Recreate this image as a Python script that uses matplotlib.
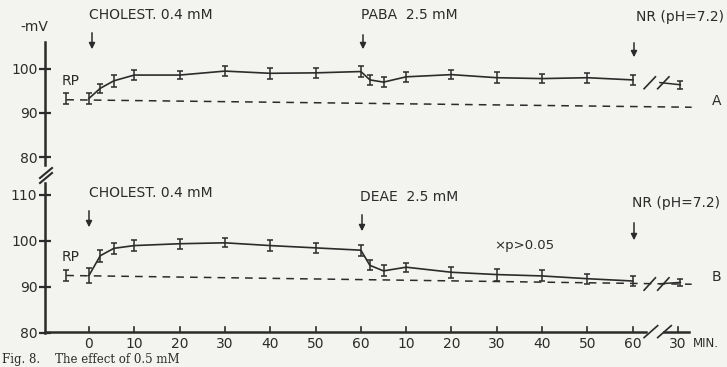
import numpy as np
import matplotlib.pyplot as plt

# time in minutes; 60-120 is the second treatment period (labelled 10..60), 130 = 30 min after NR
t = [-5, 0, 2.5, 5.5, 10, 20, 30, 40, 50, 60, 62, 65, 70, 80, 90, 100, 110, 120]
t_nr = 130.5

# panel A: cholesterol then PABA
a_mv = [93.3, 93.3, 95.6, 97.3, 98.6, 98.6, 99.5, 99.0, 99.1, 99.4, 97.5, 97.0, 98.2, 98.7, 98.0, 97.8, 98.0, 97.5]
a_err = [1.3, 1.2, 1.0, 1.3, 1.2, 1.0, 1.2, 1.2, 1.1, 1.2, 1.2, 1.1, 1.1, 1.1, 1.2, 1.1, 1.1, 1.2]
a_nr, a_nr_err = 96.4, 0.9
a_base = [93.0, 91.3]

# panel B: cholesterol then DEAE
b_mv = [92.6, 92.5, 96.8, 98.4, 99.0, 99.4, 99.6, 99.0, 98.5, 98.0, 94.7, 93.5, 94.3, 93.2, 92.7, 92.4, 91.8, 91.3]
b_err = [1.2, 1.6, 1.3, 1.2, 1.2, 1.1, 1.0, 1.2, 1.1, 1.2, 1.1, 1.2, 1.0, 1.2, 1.3, 1.2, 1.1, 1.0]
b_nr, b_nr_err = 91.0, 0.8
b_base = [92.5, 90.6]

xticks = [0, 10, 20, 30, 40, 50, 60, 70, 80, 90, 100, 110, 120, 130]
xlabels = ['0', '10', '20', '30', '40', '50', '60', '10', '20', '30', '40', '50', '60', '30']

ink = '#2b2b2b'
paper = '#f3f3ef'
W, H = 727, 367

fig = plt.figure(figsize=(7.27, 3.67), dpi=100, facecolor=paper)
xl = (-9.7, 140.8)
left = 45 / W

def px(y):
    return 1 - y / H

axA = fig.add_axes([left, px(165), 1 - left, (165 - 42) / H])
axB = fig.add_axes([left, px(333), 1 - left, (333 - 183) / H])
axA.set_ylim(78.2, 106.1)
axB.set_ylim(80.2, 112.6)

def panel(ax, mv, err, nr, nr_err, base, yt, letter):
    ax.set_xlim(*xl)
    ax.set_facecolor('none')
    for s in ['top', 'right', 'bottom']:
        ax.spines[s].set_visible(False)
    ax.spines['left'].set_color(ink)
    ax.spines['left'].set_linewidth(1.8)
    ax.set_xticks([])
    ax.set_yticks(yt)
    ax.set_yticklabels([str(v) for v in yt], fontsize=10, color=ink)
    ax.tick_params(axis='y', direction='inout', length=9, width=1.6, color=ink, pad=1)
    # resting potential baseline
    ax.plot([-5, 133], base, ls=(0, (5, 4)), color=ink, lw=1.1)
    ax.plot(t[1:], mv[1:], color=ink, lw=1.2)
    ax.errorbar(t, mv, yerr=err, fmt='none', ecolor=ink, elinewidth=1.1, capsize=2, capthick=1.1)
    ax.errorbar([t_nr], [nr], yerr=[nr_err], fmt='none', ecolor=ink, elinewidth=1.1, capsize=2, capthick=1.1)
    ax.plot([126, t_nr], [mv[-1] - 0.6, nr], color=ink, lw=1.1)
    # break marks on the line
    y0 = mv[-1] - 0.5
    for dx in (122.5, 125.5):
        ax.plot([dx, dx + 2.5], [y0 - 1.5, y0 + 1.2], color=ink, lw=1.2, clip_on=False)
    ax.text(137.5, base[1] + 1.5, letter, fontsize=10, color=ink, va='center')
    ax.text(-6, mv[0] + 2.4, 'RP', fontsize=10, color=ink, ha='left', va='bottom')

panel(axA, a_mv, a_err, a_nr, a_nr_err, a_base, [80, 90, 100], 'A')
panel(axB, b_mv, b_err, b_nr, b_nr_err, b_base, [80, 90, 100, 110], 'B')

# x axis of lower panel
axB.plot([-9.7, 123], [80.2, 80.2], color=ink, lw=1.8, clip_on=False)
axB.plot([127, 132.5], [80.2, 80.2], color=ink, lw=1.8, clip_on=False)
for dx in (122.5, 125.5):
    axB.plot([dx, dx + 3], [79.0, 81.6], color=ink, lw=1.2, clip_on=False)
for xt, lab in zip(xticks, xlabels):
    axB.plot([xt, xt], [80.2, 81.4], color=ink, lw=1.2, clip_on=False)
    axB.text(xt, 79.1, lab, fontsize=10, color=ink, ha='center', va='top')
axB.text(133.3, 79.1, 'MIN.', fontsize=8.5, color=ink, ha='left', va='top')

# y axis break between panels
fig.add_artist(plt.Line2D([40 / W, 52 / W], [px(178), px(168)], color=ink, lw=1.5))
fig.add_artist(plt.Line2D([40 / W, 52 / W], [px(183), px(173)], color=ink, lw=1.5))
fig.text(20 / W, px(27), '-mV', fontsize=10, color=ink, va='center')

# treatment annotations
def mark(x, ytxt, yarr0, yarr1, label, ha='left', dx=0):
    fig.text(x / W + dx / W, px(ytxt), label, fontsize=10, color=ink, ha=ha, va='center')
    fig.add_artist(plt.Annotation('', xy=(x / W, px(yarr1)), xytext=(x / W, px(yarr0)),
                                  xycoords='figure fraction',
                                  arrowprops=dict(arrowstyle='-|>', color=ink, lw=1.1, mutation_scale=9)))

mark(92, 15, 30, 52, 'CHOLEST. 0.4 mM', dx=-3)
mark(363, 15, 32, 52, 'PABA  2.5 mM', dx=-2)
mark(634, 17, 40, 60, 'NR (pH=7.2)', dx=2)
mark(89, 193, 208, 230, 'CHOLEST. 0.4 mM', dx=0)
mark(362, 197, 212, 234, 'DEAE  2.5 mM', dx=-2)
mark(634, 203, 220, 243, 'NR (pH=7.2)', dx=-2)
fig.text(494 / W, px(246), '×p>0.05', fontsize=9.5, color=ink, va='center')

# caption at the page edge
fig.text(2 / W, px(366.5), 'Fig. 8.    The effect of 0.5 mM', fontsize=8.5, color=ink,
         family='DejaVu Serif', va='bottom')

fig.savefig('out.png', dpi=100, facecolor=paper)
